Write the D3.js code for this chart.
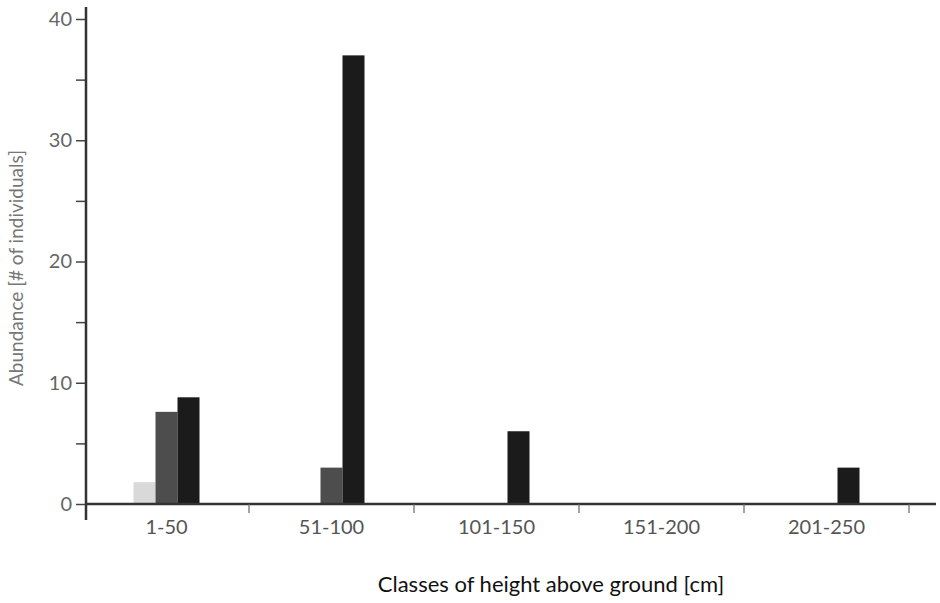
<!DOCTYPE html>
<html>
<head>
<meta charset="utf-8">
<script src="https://cdn.jsdelivr.net/npm/d3@7"></script>
<style>
  body { margin: 0; background: #fff; }
  svg text { font-family: Lato, "Open Sans", sans-serif; }
</style>
</head>
<body>
<div id="chart"></div>
<script>
// data
const categories = ['1-50', '51-100', '101-150', '151-200', '201-250'];
const seriesNames = ['light', 'medium', 'dark'];
const lightValues = [1.8, 0, 0, 0, 0];
const mediumValues = [7.6, 3, 0, 0, 0];
const darkValues = [8.8, 37, 6, 0, 3];
const yTicks = [0, 5, 10, 15, 20, 25, 30, 35, 40];

const W = 940, H = 603;
const COLORS = {light: '#d9d9d9', medium: '#4d4d4d', dark: '#1b1b1b'};
const BAR_W = 22;

const svg = d3.select('#chart').append('svg')
    .attr('width', W).attr('height', H);

// scales
const x = d3.scaleBand().domain(categories).range([84, 909]);
const xSub = d3.scaleBand().domain(seriesNames).range([-1.5 * BAR_W, 1.5 * BAR_W]);
const y = d3.scaleLinear().domain([0, 40]).range([504, 19]);

const valuesBySeries = {light: lightValues, medium: mediumValues, dark: darkValues};

// bars
seriesNames.forEach(function(s) {
    svg.append('g').selectAll('rect')
        .data(categories.map(function(c, i) { return {cat: c, value: valuesBySeries[s][i]}; })
            .filter(function(d) { return d.value > 0; }))
        .enter().append('rect')
        .attr('x', function(d) { return x(d.cat) + x.bandwidth() / 2 + xSub(s); })
        .attr('width', xSub.bandwidth())
        .attr('y', function(d) { return y(d.value); })
        .attr('height', function(d) { return y(0) - y(d.value); })
        .attr('fill', COLORS[s]);
});

// y axis
const yAxis = svg.append('g')
    .attr('transform', 'translate(86,0)')
    .call(d3.axisLeft(y).tickValues(yTicks).tickSize(10).tickPadding(4)
        .tickFormat(function(d) { return d % 10 === 0 ? d : ''; }));
yAxis.select('.domain').remove();
yAxis.selectAll('.tick line').attr('stroke', '#444').attr('stroke-width', 1.5);
yAxis.selectAll('.tick text').attr('fill', '#666').style('font-size', '20px');
svg.append('line')
    .attr('x1', 86).attr('x2', 86).attr('y1', 7).attr('y2', 520)
    .attr('stroke', '#333').attr('stroke-width', 2.5);

// x axis line
svg.append('line')
    .attr('x1', 86).attr('x2', 936).attr('y1', y(0)).attr('y2', y(0))
    .attr('stroke', '#333').attr('stroke-width', 2.5);

// category boundary ticks
svg.append('g').selectAll('line')
    .data(categories)
    .enter().append('line')
    .attr('x1', function(d) { return x(d) + x.bandwidth(); })
    .attr('x2', function(d) { return x(d) + x.bandwidth(); })
    .attr('y1', y(0)).attr('y2', y(0) + 9)
    .attr('stroke', '#666').attr('stroke-width', 1.2);

// category labels
const xAxis = svg.append('g')
    .attr('transform', 'translate(0,' + y(0) + ')')
    .call(d3.axisBottom(x).tickSize(0).tickPadding(16));
xAxis.select('.domain').remove();
xAxis.selectAll('.tick text').attr('fill', '#555').style('font-size', '20px');

// axis titles
svg.append('text')
    .attr('x', 551).attr('y', 592)
    .attr('text-anchor', 'middle')
    .attr('fill', '#111')
    .style('font-size', '22px')
    .text('Classes of height above ground [cm]');

svg.append('text')
    .attr('transform', 'translate(23,268) rotate(-90)')
    .attr('text-anchor', 'middle')
    .attr('fill', '#777')
    .style('font-size', '19px')
    .text('Abundance [# of individuals]');
</script>
</body>
</html>
